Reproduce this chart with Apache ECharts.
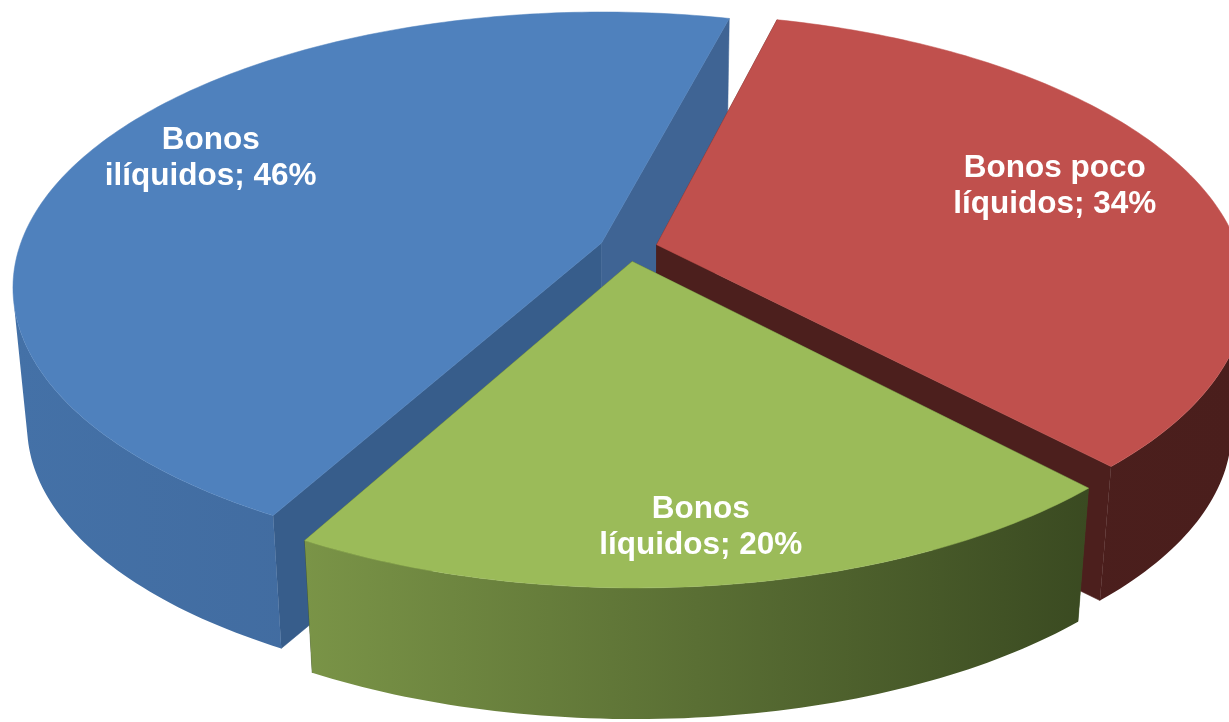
<!DOCTYPE html>
<html>
<head>
<meta charset="utf-8">
<style>html,body{margin:0;padding:0;background:#fff;overflow:hidden}#c{width:1229px;height:722px}</style>
<script src="https://cdn.jsdelivr.net/npm/echarts@6/dist/echarts.min.js"></script>
</head>
<body>
<div id="c"></div>
<script>
const categories = ['Bonos ilíquidos', 'Bonos poco líquidos', 'Bonos líquidos'];
const values = [46, 34, 20];
const labelLines = [['Bonos', 'ilíquidos; 46%'], ['Bonos poco', 'líquidos; 34%'], ['Bonos', 'líquidos; 20%']];
const topColors = ['#4f81bd', '#c0504d', '#9bbb59'];
const wallStops = [['#4471a7', '#3e6597'], ['#4d201e', '#4a1e1c'], ['#7a9447', '#3a4a21']];
const edgeColors = [['#375d8b', '#3f6494'], ['#4c1f1d', '#4c1f1d'], ['#3f5025', '#3f5025']];
const labelAngleShift = [3.6, -3.6, 0.56];
const labelRadius = [0.788, 0.748, 0.8425];

// view of the 3D disc
const view = {cx: 628.5, cy: 248, f: 582, k: 0.463, a: 0.16, explode: 0.05, bottomScale: 0.977, depth: 139, backAngle: 14.3, tilt: 0.002};
const rad = d => d * Math.PI / 180;

function project(X, Y, low) {
  const w = 1 - view.a * Y;
  let x = view.f * X / w, y = view.f * view.k * Y / w;
  if (low) { x *= view.bottomScale; y = y * view.bottomScale + view.depth; }
  return [view.cx + x, view.cy + y + view.tilt * x];
}
const total = values.reduce((s, v) => s + v, 0);
function sliceAngles(i) {
  let start = view.backAngle - values[0] / total * 360;
  for (let j = 0; j < i; j++) start += values[j] / total * 360;
  return [start, start + values[i] / total * 360];
}
function signedArea(q) {
  let s = 0;
  for (let j = 0; j < q.length; j++) {
    const p = q[j], r = q[(j + 1) % q.length];
    s += p[0] * r[1] - r[0] * p[1];
  }
  return s;
}

function renderItem(params, api) {
  const i = params.dataIndex;
  const value = api.value(0);
  const a0 = sliceAngles(i)[0];
  const a1 = a0 + value / total * 360;
  const mid = (a0 + a1) / 2;
  const ox = view.explode * Math.sin(rad(mid)), oy = -view.explode * Math.cos(rad(mid));
  const pt = (deg, r, low) => project(ox + r * Math.sin(rad(deg)), oy - r * Math.cos(rad(deg)), low);
  const arc = low => {
    const out = [];
    const n = Math.ceil(a1 - a0);
    for (let s = 0; s <= n; s++) out.push(pt(a0 + (a1 - a0) * s / n, 1, low));
    return out;
  };
  const topArc = arc(false), lowArc = arc(true);
  const apex = pt(0, 0, false), apexLow = pt(0, 0, true);
  const xs = topArc.map(p => p[0]);
  const grad = {type: 'linear', global: true, x: Math.min.apply(null, xs), y: 0, x2: Math.max.apply(null, xs), y2: 0,
    colorStops: [{offset: 0, color: wallStops[i][0]}, {offset: 1, color: wallStops[i][1]}]};
  const poly = (points, fill, z2) => ({type: 'polygon', shape: {points}, z2, style: {fill, stroke: fill, lineWidth: 0.5}});

  // outer wall: one path of the viewer-facing quads
  let wallPath = '';
  for (let s = 0; s + 1 < topArc.length; s++) {
    const q = [topArc[s], topArc[s + 1], lowArc[s + 1], lowArc[s]];
    if (signedArea(q) < 0) {
      wallPath += 'M' + q.map(p => p[0].toFixed(2) + ' ' + p[1].toFixed(2)).join('L') + 'Z';
    }
  }
  const children = [
    poly([apex, topArc[0], lowArc[0], apexLow], edgeColors[i][0], i * 10 + 1),
    poly([apex, topArc[topArc.length - 1], lowArc[lowArc.length - 1], apexLow], edgeColors[i][1], i * 10 + 2),
    {type: 'path', z2: i * 10 + 3, shape: {pathData: wallPath}, style: {fill: grad}},
    poly([apex].concat(topArc), topColors[i], i * 10 + 4)
  ];
  const lab = pt(mid + labelAngleShift[i], labelRadius[i], false);
  labelLines[i].forEach((line, l) => {
    children.push({type: 'text', z2: 100, x: lab[0] + 1, y: lab[1] + 1 + (l - 0.5) * 36.5, style: {
      text: line, fill: '#ffffff', font: 'bold 31.5px "Liberation Sans", Arial, sans-serif',
      align: 'center', verticalAlign: 'middle'}});
  });
  return {type: 'group', children};
}

const chart = echarts.init(document.getElementById('c'), null, {width: 1229, height: 722});
chart.setOption({
  animation: false,
  backgroundColor: '#ffffff',
  series: [{
    type: 'custom',
    coordinateSystem: 'none',
    renderItem,
    data: values.map((v, i) => ({value: [v], name: categories[i]}))
  }]
});
</script>
</body>
</html>
